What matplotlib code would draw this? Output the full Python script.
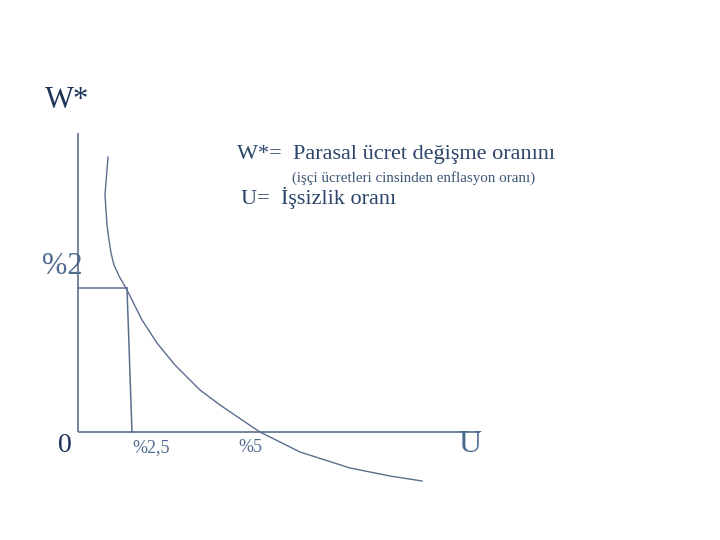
import matplotlib
matplotlib.use("Agg")
import matplotlib.pyplot as plt

# Phillips curve (schematic units: origin at axes corner)
curve_u = [30, 29, 28, 27, 28, 29, 31, 33, 36, 41, 48, 56, 64, 79, 97, 122, 142, 170, 182, 222, 272, 312, 344]
curve_w = [275, 262, 250, 237, 222, 207, 192, 179, 167, 156, 144, 128, 112, 89, 67, 42, 27, 8, 0, -20, -36, -44, -49]

axis_u_max = 402
axis_w_max = 299
guide_w = 144          # %2 level
guide_u_top = 49       # where %2 meets the curve
guide_u_bottom = 54    # %2,5 on U axis

x_tick_labels = ["%2,5", "%5"]
x_tick_pos = [73, 172]

line_col = "#5a6e8b"
plt.rcParams['font.family'] = ['Liberation Serif', 'DejaVu Serif']

fig = plt.figure(figsize=(7.2, 5.4), dpi=100)
ax = fig.add_axes([0, 0, 1, 1])
ax.set_xlim(-78, 642)
ax.set_ylim(-108, 432)
ax.axis('off')

# axes
ax.plot([0, 0], [0, axis_w_max], color=line_col, lw=1.2, solid_capstyle='butt')
ax.plot([0, axis_u_max], [0, 0], color=line_col, lw=1.2, solid_capstyle='butt')
# guide lines
ax.plot([0, guide_u_top], [guide_w, guide_w], color=line_col, lw=1.1)
ax.plot([guide_u_top, guide_u_bottom], [guide_w, 0], color=line_col, lw=1.1)
# curve
ax.plot(curve_u, curve_w, color=line_col, lw=1.0)

# labels
ax.text(-33, 331, "W*", fontsize=22, color="#1e3558", ha='left', va='center')
ax.text(159, 277, "W*=  Parasal ücret değişme oranını", fontsize=16, color="#2b4468", ha='left', va='center')
ax.text(214, 254, "(işçi ücretleri cinsinden enflasyon oranı)", fontsize=10.8, color="#3d5575", ha='left', va='center')
ax.text(163, 234, "U=  İşsizlik oranı", fontsize=16, color="#2b4468", ha='left', va='center')
ax.text(-36, 165, "%2", fontsize=22, color="#4f6a8e", ha='left', va='center')
ax.text(-13, -13, "0", fontsize=20, color="#1c2f58", ha='center', va='center')
for lab, pos in zip(x_tick_labels, x_tick_pos):
    ax.text(pos, -16, lab, fontsize=13, color="#4f6a8e", ha='center', va='center')
ax.text(392, -13, "U", fontsize=23, color="#4a6a93", ha='center', va='center')

fig.savefig("out.png", dpi=100)
